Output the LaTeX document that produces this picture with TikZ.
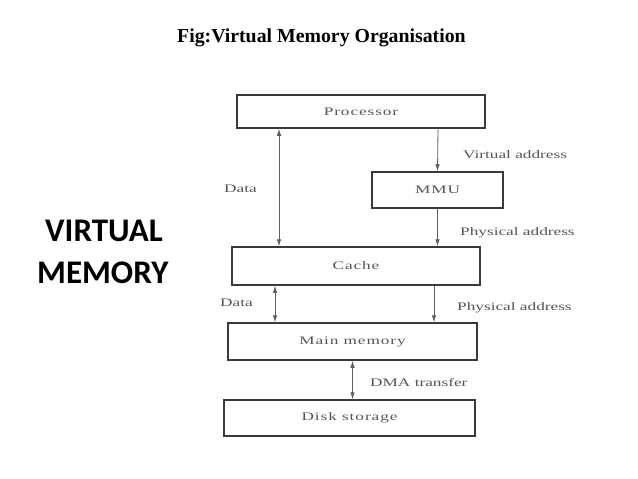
\documentclass[tikz,border=0pt]{standalone}
\usepackage{fontspec}
\setmainfont{Liberation Serif}
\newfontfamily\scanfont[FakeStretch=1.5]{Liberation Serif}
\newfontfamily\unitfont[FakeStretch=1.5,LetterSpace=8]{Liberation Serif}
\newfontfamily\slidefont{Carlito}
\usepackage{xcolor}
\usetikzlibrary{arrows.meta,calc,positioning}
\definecolor{boxline}{HTML}{3A3A3A}
\definecolor{scantext}{HTML}{555555}
\definecolor{wire}{HTML}{5E5E5E}
\tikzset{
  unit/.style={draw=boxline,line width=1.5pt,inner sep=0pt,text=scantext,font=\unitfont\fontsize{11.5}{12}\selectfont},
  tag/.style={anchor=base west,inner sep=0pt,text=scantext,font=\scanfont\fontsize{11.5}{12}\selectfont},
  wire/.style={draw=wire,line width=0.8pt,>={Latex[length=7pt,width=4.5pt]}}
}
\begin{document}
\begin{tikzpicture}[x=1pt,y=-1pt]
                \useasboundingbox (0,0) rectangle (638,479);
                \node[anchor=base west,inner sep=0pt,font=\bfseries\fontsize{19.8}{22}\selectfont] at (177,42)(title){Fig:Virtual Memory Organisation};
                \node[anchor=base west,inner sep=0pt,font=\slidefont\bfseries\fontsize{33}{36}\selectfont] at (45,241)(v){VIRTUAL};
                \node[anchor=base west,inner sep=0pt,font=\slidefont\bfseries\fontsize{33}{36}\selectfont] at (37,283)(m){MEMORY};
                \node[unit,minimum width=248,minimum height=33] at (361,111.5)(proc){Processor};
                \node[unit,minimum width=131,minimum height=36] at (437.5,190)(mmu){MMU};
                \node[unit,minimum width=248,minimum height=38] at (356,266)(cache){Cache};
                \node[unit,minimum width=249,minimum height=37] at (352.5,341.5)(main){Main memory};
                \node[unit,minimum width=251,minimum height=36] at (349.5,418)(disk){Disk storage};
                \draw[wire,<->]([xshift=-82]proc.south)coordinate(d1)--(d1 |- cache.north);
                \draw[wire,->]([xshift=77]proc.south)--(mmu.north);
                \draw[wire,->](mmu.south)--(mmu.south |- cache.north);
                \draw[wire,<->]([xshift=-81]cache.south)coordinate(d2)--(d2 |- main.north);
                \draw[wire,->]([xshift=78]cache.south)coordinate(p2)--(p2 |- main.north);
                \draw[wire,<->](main.south)--(main.south |- disk.north);
                \node[tag] at (463,158)(va){Virtual address};
                \node[tag] at (224,192)(da){Data};
                \node[tag] at (460,235)(pa){Physical address};
                \node[tag] at (220,306)(db){Data};
                \node[tag] at (457,310)(pb){Physical address};
                \node[tag] at (370,386)(dma){DMA transfer};
            \end{tikzpicture}
\end{document}
